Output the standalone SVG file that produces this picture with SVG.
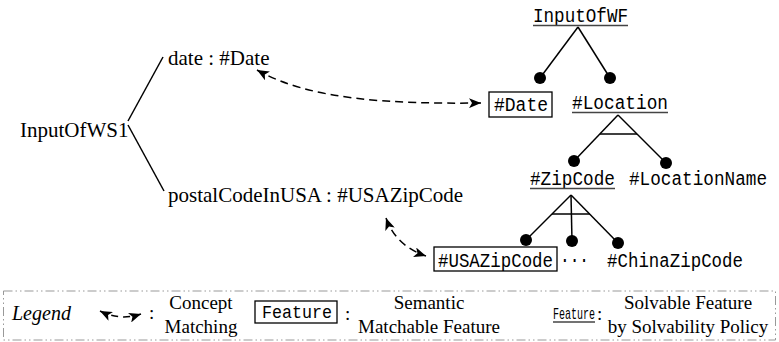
<svg xmlns="http://www.w3.org/2000/svg" width="779" height="342" viewBox="0 0 779 342">
<defs>
<style>
.serif{font-family:"Liberation Serif","Times New Roman",serif;font-size:21px;fill:#000}
.leg{font-family:"Liberation Serif","Times New Roman",serif;font-size:19px;fill:#000}
.mono{font-family:"Liberation Mono","Courier New",monospace;font-size:19.5px;fill:#000}
.ln{stroke:#000;stroke-width:1.5;fill:none}
.ul{stroke:#444;stroke-width:1.5}
.box{fill:#fff;stroke:#000;stroke-width:1.3}
.dash{stroke:#000;stroke-width:1.5;fill:none;stroke-dasharray:8 5}
.dot{fill:#000}
</style>
<marker id="ah" viewBox="0 0 12 10" refX="12" refY="5" markerWidth="12" markerHeight="10" markerUnits="userSpaceOnUse" orient="auto-start-reverse">
<path d="M0,0 L12,5 L0,10 L3,5 z" fill="#000"/>
</marker>
</defs>
<rect width="779" height="342" fill="#fff"/>

<g id="connectors">
<line class="ln" x1="128" y1="121" x2="163" y2="57"/>
<line class="ln" x1="128" y1="125" x2="164" y2="191"/>
<line class="ln" x1="578" y1="27" x2="540" y2="78"/>
<line class="ln" x1="578" y1="27" x2="610" y2="78"/>
<line class="ln" x1="618" y1="115" x2="574" y2="161"/>
<line class="ln" x1="618" y1="115" x2="666" y2="163"/>
<line class="ln" x1="600" y1="134" x2="637" y2="134"/>
<line class="ln" x1="571" y1="195" x2="526" y2="240"/>
<line class="ln" x1="571" y1="195" x2="572" y2="241"/>
<line class="ln" x1="571" y1="195" x2="618" y2="243"/>
<line class="ln" x1="552" y1="214" x2="590" y2="214"/>
<circle class="dot" cx="540" cy="78" r="6"/>
<circle class="dot" cx="610" cy="78" r="6"/>
<circle class="dot" cx="574" cy="161" r="6"/>
<circle class="dot" cx="666" cy="163" r="6"/>
<circle class="dot" cx="526" cy="240" r="6"/>
<circle class="dot" cx="572" cy="241" r="6"/>
<circle class="dot" cx="618" cy="243" r="6"/>
<path class="dash" d="M257 70 C310 100 390 104 481 103" marker-start="url(#ah)" marker-end="url(#ah)"/>
<path class="dash" d="M386 218 Q396 246 426 256" marker-start="url(#ah)" marker-end="url(#ah)"/>
</g>

<g id="ws1-root"><text class="serif" x="20" y="137">InputOfWS1</text></g>
<g id="ws1-date"><text class="serif" x="168" y="65">date : #Date</text></g>
<g id="ws1-postal"><text class="serif" x="168" y="202">postalCodeInUSA : #USAZipCode</text></g>

<g id="wf-root"><text class="mono" x="533" y="22" textLength="95" lengthAdjust="spacingAndGlyphs">InputOfWF</text><line class="ul" x1="533" y1="25.5" x2="628" y2="25.5"/></g>
<g id="wf-date"><rect class="box" x="489" y="92" width="63" height="25"/><text class="mono" x="494" y="111" textLength="54" lengthAdjust="spacingAndGlyphs">#Date</text></g>
<g id="wf-location"><text class="mono" x="572" y="109" textLength="96" lengthAdjust="spacingAndGlyphs">#Location</text><line class="ul" x1="572" y1="112.5" x2="668" y2="112.5"/></g>
<g id="wf-zipcode"><text class="mono" x="530" y="185" textLength="85" lengthAdjust="spacingAndGlyphs">#ZipCode</text><line class="ul" x1="530" y1="188.5" x2="615" y2="188.5"/></g>
<g id="wf-locationname"><text class="mono" x="629" y="185" textLength="138" lengthAdjust="spacingAndGlyphs">#LocationName</text></g>
<g id="wf-usazipcode"><rect class="box" x="434" y="247" width="123" height="24"/><text class="mono" x="438" y="267" textLength="115" lengthAdjust="spacingAndGlyphs">#USAZipCode</text></g>
<g id="wf-more"><text class="mono" x="560" y="266" textLength="29" lengthAdjust="spacingAndGlyphs">···</text></g>
<g id="wf-chinazipcode"><text class="mono" x="607" y="267" textLength="136" lengthAdjust="spacingAndGlyphs">#ChinaZipCode</text></g>

<g id="legend">
<rect x="3.5" y="291" width="772" height="49" fill="none" stroke="#999" stroke-width="1" stroke-dasharray="9 3 1.5 3 1.5 3"/>
<text x="12" y="320" style="font-family:'Liberation Serif','Times New Roman',serif;font-size:20px;font-style:italic">Legend</text>
<path d="M100 311 Q120 321 141 314" stroke="#000" stroke-width="1.5" fill="none" stroke-dasharray="7 5" marker-start="url(#ah)" marker-end="url(#ah)"/>
<text class="leg" x="149" y="319">:</text>
<text class="leg" x="201" y="309" text-anchor="middle">Concept</text>
<text class="leg" x="201" y="333" text-anchor="middle">Matching</text>
<rect class="box" x="255" y="301" width="82" height="22"/>
<text class="mono" x="262" y="318" textLength="70" lengthAdjust="spacingAndGlyphs" style="font-size:18px">Feature</text>
<text class="leg" x="345" y="320">:</text>
<text class="leg" x="429" y="309" text-anchor="middle">Semantic</text>
<text class="leg" x="429" y="333" text-anchor="middle">Matchable Feature</text>
<text class="mono" x="553" y="319" textLength="42" lengthAdjust="spacingAndGlyphs" style="font-size:17px">Feature</text>
<line class="ul" x1="553" y1="322" x2="595" y2="322"/>
<text class="leg" x="597" y="320">:</text>
<text class="leg" x="688" y="309" text-anchor="middle">Solvable Feature</text>
<text class="leg" x="688" y="333" text-anchor="middle">by Solvability Policy</text>
</g>
</svg>
